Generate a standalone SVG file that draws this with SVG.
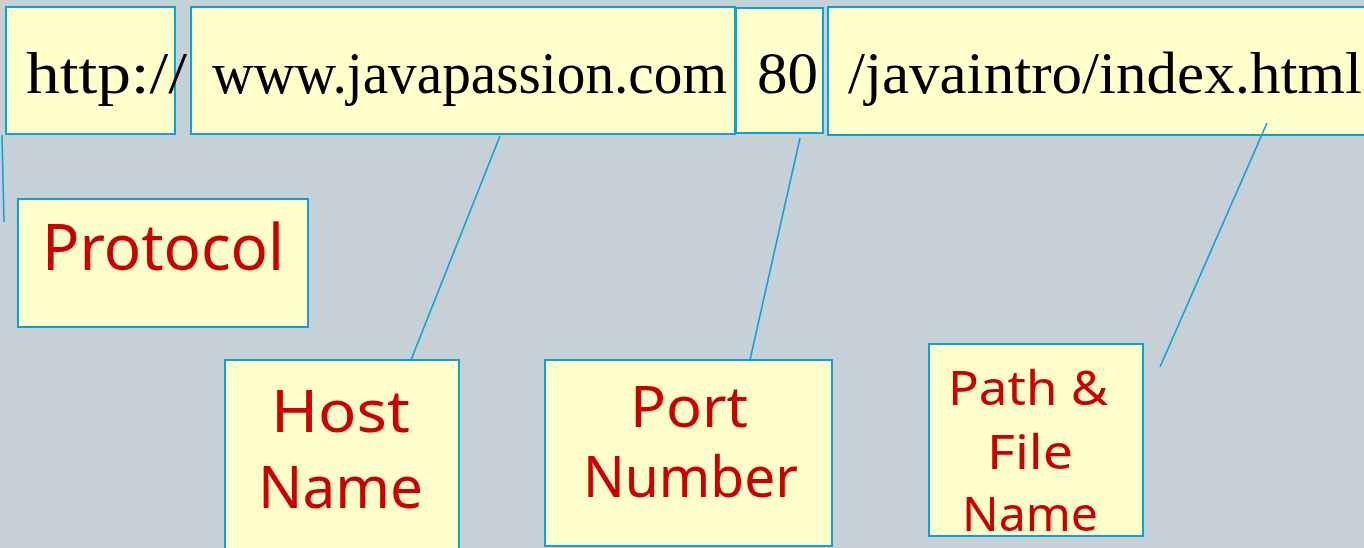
<svg xmlns="http://www.w3.org/2000/svg" width="1364" height="548" viewBox="0 0 1364 548">
<style>
.box{fill:#FFFFCC;stroke:#0AA3D6;stroke-width:2}
.url{font-family:"Liberation Serif","DejaVu Serif",serif;font-size:59px;fill:#000}
.lbl{font-family:"Noto Sans","DejaVu Sans",sans-serif;fill:#CC0000}
.con{stroke:#0AA3D6;stroke-width:1.6;fill:none}
</style>
<rect width="1364" height="548" fill="#C5D0D7"/>
<g id="http"><rect class="box" x="6" y="7" width="169" height="127"/><text class="url" x="26" y="93" textLength="161" lengthAdjust="spacingAndGlyphs">http://</text></g>
<g id="host"><rect class="box" x="191" y="7" width="544" height="127"/><text class="url" x="212" y="93" textLength="515" lengthAdjust="spacingAndGlyphs">www.javapassion.com</text></g>
<g id="port"><rect class="box" x="736" y="8" width="87" height="125"/><text class="url" x="757" y="93" textLength="61" lengthAdjust="spacingAndGlyphs">80</text></g>
<g id="path"><rect class="box" x="828" y="7" width="540" height="128"/><text class="url" x="848" y="93" textLength="514" lengthAdjust="spacingAndGlyphs">/javaintro/index.html</text></g>
<g id="protocolLabel"><rect class="box" x="18" y="199" width="290" height="128"/><text class="lbl" x="42" y="270" font-size="64" textLength="242" lengthAdjust="spacingAndGlyphs">Protocol</text></g>
<g id="hostLabel"><rect class="box" x="225" y="360" width="234" height="192"/><text class="lbl" x="271" y="432" font-size="58" textLength="139" lengthAdjust="spacingAndGlyphs">Host</text><text class="lbl" x="258" y="508" font-size="58" textLength="165" lengthAdjust="spacingAndGlyphs">Name</text></g>
<g id="portLabel"><rect class="box" x="545" y="360" width="287" height="186"/><text class="lbl" x="630" y="427" font-size="56" textLength="118" lengthAdjust="spacingAndGlyphs">Port</text><text class="lbl" x="583" y="497" font-size="56" textLength="215" lengthAdjust="spacingAndGlyphs">Number</text></g>
<g id="pathLabel"><rect class="box" x="929" y="344" width="214" height="192"/><text class="lbl" x="948" y="405" font-size="48" textLength="160" lengthAdjust="spacingAndGlyphs">Path &amp;</text><text class="lbl" x="987" y="469" font-size="48" textLength="86" lengthAdjust="spacingAndGlyphs">File</text><text class="lbl" x="962" y="531" font-size="48" textLength="136" lengthAdjust="spacingAndGlyphs">Name</text></g>
<g id="connectors">
<line class="con" x1="2" y1="135" x2="4" y2="222"/>
<line class="con" x1="500" y1="136" x2="411" y2="360"/>
<line class="con" x1="800" y1="138" x2="750" y2="360"/>
<line class="con" x1="1267" y1="123" x2="1160" y2="367"/>
</g>
</svg>
